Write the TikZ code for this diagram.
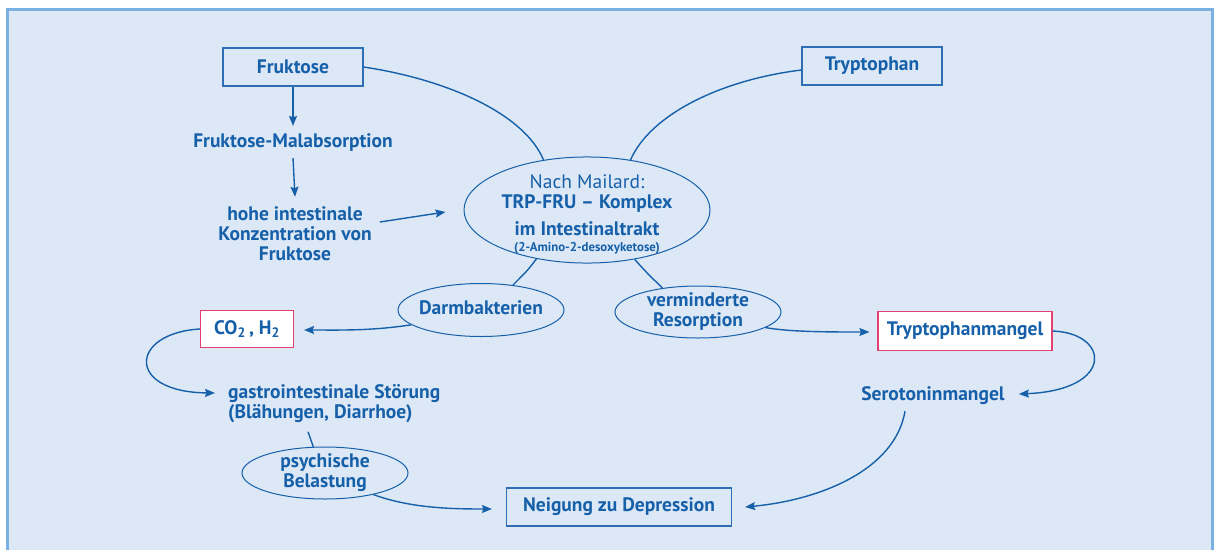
\documentclass[tikz,border=0pt]{standalone}
\usepackage{fontspec}
\setmainfont{PT Sans}
\usetikzlibrary{shapes.geometric,arrows.meta}
\definecolor{tblue}{RGB}{22,96,170}
\definecolor{lblue}{RGB}{46,110,180}
\definecolor{fbord}{RGB}{122,176,226}
\definecolor{bgfill}{RGB}{221,232,246}
\definecolor{rbord}{RGB}{228,64,112}
\newcommand\ctab[1]{\makebox[0pt]{\begin{tabular}{@{}c@{}}#1\end{tabular}}}
\tikzset{
  every node/.style={text=tblue, font=\fontsize{19.5}{20}\selectfont\bfseries},
  bluebox/.style={draw=lblue, line width=1.2pt, inner sep=0pt, fill=bgfill},
  redbox/.style={draw=rbord, line width=1.2pt, inner sep=0pt, fill=white},
  txt/.style={inner sep=0pt},
  ell/.style={draw=tblue, line width=1pt, ellipse, inner xsep=0pt, inner ysep=-2pt},
  conn/.style={draw=tblue, line width=1.4pt},
  arr/.style={conn, -{Stealth[length=10pt,width=8pt,inset=1.5pt]}},
}
\begin{document}
\begin{tikzpicture}[x=1pt,y=-1pt]
\useasboundingbox (0,0) rectangle (1214,549);
\clip (0,0) rectangle (1214,549);
\draw[fbord, line width=3pt, fill=bgfill] (7,9.7) rectangle (1212.5,600);

% nodes
\node[bluebox, minimum width=140pt, minimum height=38pt] (fru) at (293,67) {Fruktose};
\node[bluebox, minimum width=140pt, minimum height=38pt] (try) at (872,66) {Tryptophan};
\node[txt] (mal) at (293,143) {Fruktose-Malabsorption};
\node[txt, align=center] (hoh) at (295,234) {hohe intestinale\\Konzentration von\\Fruktose};
\node[ell, inner ysep=-10pt, minimum width=246pt, minimum height=106pt] (kom) at (587,210)
  {\ctab{\rule{0pt}{26pt}{\mdseries Nach Mailard:}\\TRP-FRU -- Komplex\\[7pt]im Intestinaltrakt\\[-4pt]{\fontsize{12.8}{14}\selectfont (2-Amino-2-desoxyketose)}}};
\node[ell, minimum width=166pt, minimum height=53pt] (dar) at (481,310) {\ctab{Darmbakterien}};
\node[ell, minimum width=166pt, minimum height=52pt] (ver) at (698,312) {\ctab{verminderte\\Resorption}};
\node[redbox, minimum width=93pt, minimum height=37pt] (co) at (247,329) {CO\textsubscript{2}\,, H\textsubscript{2}};
\node[redbox, minimum width=174pt, minimum height=39pt] (tm) at (965,331) {Tryptophanmangel};
\node[txt, anchor=north west, align=left] (gas) at (228,384) {gastrointestinale Störung\\(Blähungen, Diarrhoe)};
\node[txt] (ser) at (933,396) {Serotoninmangel};
\node[ell, minimum width=166pt, minimum height=52pt] (psy) at (325,473) {\ctab{psychische\\Belastung}};
\node[bluebox, minimum width=225pt, minimum height=38pt] (nei) at (619,507) {Neigung zu Depression};

% connectors
\draw[arr] (fru.south) -- ([shift={(0,-8)}]mal.north);
\draw[arr] ([shift={(0,6)}]mal.south) -- ([shift={(0,-10)}]hoh.north);
\draw[arr] ([shift={(8,-12)}]hoh.east) -- ([shift={(-18,2)}]kom.west);
\draw[conn] (fru.east) .. controls (450,80) and (525,115) .. (kom.131);
\draw[conn] ([shift={(0,4)}]try.west) .. controls (720,80) and (650,115) .. (kom.49);
\draw[conn] (kom.224) .. controls (528,270) .. (dar.38);
\draw[conn] (kom.314) .. controls (646,272) .. (ver.146);
\draw[arr] (dar.192) .. controls (370,331) and (340,330) .. ([shift={(10,1)}]co.east);
\draw[arr] (ver.347) .. controls (790,332) and (830,332) .. ([shift={(-8,1)}]tm.west);
\draw[arr] (co.west) .. controls (130,333) and (125,392) .. ([shift={(-13,9)}]gas.north west);
\draw[arr] (tm.east) .. controls (1110,333) and (1115,390) .. ([shift={(14,-2)}]ser.east);
\draw[arr] ([shift={(-28,6)}]ser.south) .. controls (895,470) and (820,500) .. ([shift={(13,0)}]nei.east);
\draw[conn] ([shift={(80,9)}]gas.south west) -- (psy.114);
\draw[arr] (psy.336) .. controls (410,508) and (450,509) .. ([shift={(-14,2)}]nei.west);
\end{tikzpicture}
\end{document}
